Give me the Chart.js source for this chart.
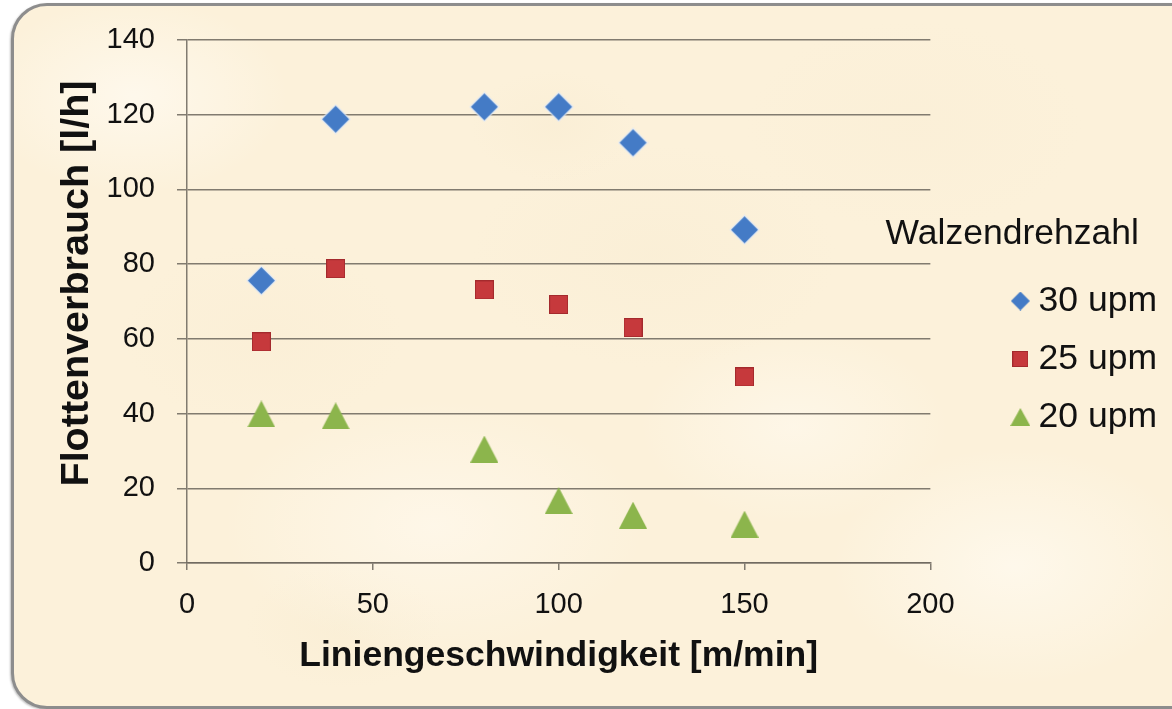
<!DOCTYPE html>
<html>
<head>
<meta charset="utf-8">
<script src="https://cdn.jsdelivr.net/npm/chart.js@4/dist/chart.umd.min.js"></script>
<style>
  html, body { margin: 0; padding: 0; background: #ffffff; }
  body { width: 1172px; height: 709px; position: relative; overflow: hidden; }
  #frame {
    position: absolute; left: 11px; top: 3px; width: 1200px; height: 700px;
    border: 3px solid #8d8d8d; border-radius: 36px;
    background-color: #fcf1da;
    background-image:
      radial-gradient(ellipse 220px 140px at 120px 90px, rgba(255,250,240,0.8), rgba(255,250,240,0) 70%),
      radial-gradient(ellipse 260px 160px at 640px 250px, rgba(248,236,210,0.45), rgba(248,236,210,0) 70%),
      radial-gradient(ellipse 300px 180px at 420px 520px, rgba(255,249,238,0.7), rgba(255,249,238,0) 70%),
      radial-gradient(ellipse 240px 150px at 900px 120px, rgba(249,237,212,0.4), rgba(249,237,212,0) 70%),
      radial-gradient(ellipse 260px 170px at 1000px 560px, rgba(255,251,242,0.7), rgba(255,251,242,0) 70%),
      radial-gradient(ellipse 200px 130px at 250px 330px, rgba(249,236,210,0.4), rgba(249,236,210,0) 70%),
      radial-gradient(ellipse 220px 140px at 780px 420px, rgba(255,250,240,0.6), rgba(255,250,240,0) 70%),
      radial-gradient(ellipse 120px 80px at 540px 120px, rgba(247,234,206,0.35), rgba(247,234,206,0) 70%),
      radial-gradient(ellipse 140px 90px at 330px 620px, rgba(247,234,206,0.35), rgba(247,234,206,0) 70%);
    box-shadow: -1px 1px 2px rgba(0,0,0,0.25);
  }
  #chart { position: absolute; left: 0; top: 0; }
</style>
</head>
<body>
<div id="frame"></div>
<canvas id="chart" width="1172" height="709"></canvas>
<script>
// Liniengeschwindigkeit [m/min]
const speeds = [20, 40, 80, 100, 120, 150];
// Flottenverbrauch [l/h] per Walzendrehzahl
const upm30 = [75.6, 118.8, 122.1, 122.1, 112.5, 89.2];
const upm25 = [59.2, 78.8, 73.1, 69.2, 63.0, 49.8];
const upm20 = [39.9, 39.4, 30.5, 16.7, 12.8, 10.4];
const seriesNames = ['30 upm', '25 upm', '20 upm'];
const yTicks = [0, 20, 40, 60, 80, 100, 120, 140];
const xTicks = [0, 50, 100, 150, 200];
const legendTitle = 'Walzendrehzahl';
const yTitle = 'Flottenverbrauch [l/h]';

const BLUE = '#447bc6';
const RED = '#c6393c';
const GREEN = '#8cb54c';
const GRID = 'rgba(112,106,96,0.88)';
const INK = '#111111';
const FONT = "'Liberation Sans', Arial, sans-serif";

// marker sprites (drawn centred on the data point)
function diamond(size, color, halo) {
  const pad = halo ? 2 : 0;
  const c = document.createElement('canvas');
  c.width = c.height = size + pad * 2;
  const g = c.getContext('2d');
  const h = size / 2, o = pad;
  g.beginPath();
  g.moveTo(o + h, o); g.lineTo(o + size, o + h); g.lineTo(o + h, o + size); g.lineTo(o, o + h);
  g.closePath();
  if (halo) { g.strokeStyle = 'rgba(225,233,246,0.85)'; g.lineWidth = 2.5; g.stroke(); }
  g.fillStyle = color; g.fill();
  return c;
}
function square(size, color) {
  const c = document.createElement('canvas');
  c.width = c.height = size;
  const g = c.getContext('2d');
  g.fillStyle = color; g.fillRect(0, 0, size, size);
  g.strokeStyle = 'rgba(150,35,38,0.7)'; g.lineWidth = 1; g.strokeRect(0.5, 0.5, size - 1, size - 1);
  return c;
}
function triangle(w, h, color) {
  const c = document.createElement('canvas');
  c.width = w; c.height = h;
  const g = c.getContext('2d');
  g.beginPath(); g.moveTo(w / 2, 0); g.lineTo(w, h); g.lineTo(0, h); g.closePath();
  g.fillStyle = color; g.fill();
  return c;
}

const markers = [diamond(27, BLUE, true), square(19, RED), triangle(28, 27, GREEN)];
const legendMarkers = [diamond(19, BLUE, false), square(16, RED), triangle(20, 18, GREEN)];
const colors = [BLUE, RED, GREEN];
const seriesValues = [upm30, upm25, upm20];

const datasets = seriesValues.map((vals, i) => ({
  label: seriesNames[i],
  data: speeds.map((x, k) => ({ x: x, y: vals[k] })),
  pointStyle: markers[i],
  backgroundColor: colors[i],
  borderColor: colors[i],
  showLine: false
}));

// rotated value-axis title and the heading above the legend entries
const sideTexts = {
  id: 'sideTexts',
  afterDraw(chart) {
    const { ctx, chartArea, legend } = chart;
    ctx.save();
    ctx.fillStyle = INK;
    ctx.textBaseline = 'middle';

    ctx.font = '35.5px ' + FONT;
    ctx.textAlign = 'right';
    ctx.fillText(legendTitle, legend.left + 141.5, chartArea.top + 194);

    ctx.font = 'bold 39.5px ' + FONT;
    ctx.textAlign = 'center';
    ctx.translate(chart.scales.y.left + 57, chartArea.top + 243.5);
    ctx.rotate(-Math.PI / 2);
    ctx.fillText(yTitle, 0, 0);
    ctx.restore();
  }
};

new Chart(document.getElementById('chart'), {
  type: 'scatter',
  data: { datasets: datasets },
  plugins: [sideTexts],
  options: {
    responsive: false,
    animation: false,
    devicePixelRatio: 1,
    layout: { padding: { left: 20, right: 5, top: 40, bottom: 31 } },
    plugins: {
      tooltip: { enabled: false },
      legend: {
        position: 'right',
        align: 'center',
        labels: {
          usePointStyle: true,
          boxWidth: 1,
          padding: 22.5,
          color: INK,
          font: { family: FONT, size: 35.5 },
          generateLabels: (chart) => chart.data.datasets.map((ds, i) => ({
            text: ds.label,
            pointStyle: legendMarkers[i],
            fillStyle: colors[i],
            strokeStyle: colors[i],
            lineWidth: 0,
            hidden: false,
            datasetIndex: i,
            fontColor: INK
          }))
        }
      }
    },
    scales: {
      x: {
        type: 'linear',
        min: 0, max: 200,
        afterBuildTicks: (s) => { s.ticks = xTicks.map(v => ({ value: v })); },
        afterFit: (s) => { s.height = 115; },
        grid: { display: true, drawOnChartArea: false, drawTicks: true, tickLength: 7, color: GRID, lineWidth: 1.5 },
        border: { display: true, color: GRID, width: 1.5 },
        ticks: { color: INK, padding: 18, font: { family: FONT, size: 29 } },
        title: {
          display: true,
          text: 'Liniengeschwindigkeit [m/min]',
          color: INK,
          font: { family: FONT, size: 35.5, weight: 'bold' },
          padding: { top: 0, bottom: 0 }
        }
      },
      y: {
        type: 'linear',
        min: 0, max: 140,
        afterBuildTicks: (s) => { s.ticks = yTicks.map(v => ({ value: v })); },
        afterFit: (s) => { s.width = 167; },
        grid: { display: true, drawTicks: true, tickLength: 10, color: GRID, lineWidth: 1.5 },
        border: { display: true, color: GRID, width: 1.5 },
        ticks: { color: INK, padding: 22, font: { family: FONT, size: 29 } },
        title: { display: false }
      },
      gap: {
        type: 'linear',
        position: 'right',
        min: 0, max: 1,
        display: true,
        afterFit: (s) => { s.width = 67; },
        grid: { display: false, drawTicks: false },
        border: { display: false },
        ticks: { display: false }
      }
    }
  }
});
</script>
</body>
</html>
